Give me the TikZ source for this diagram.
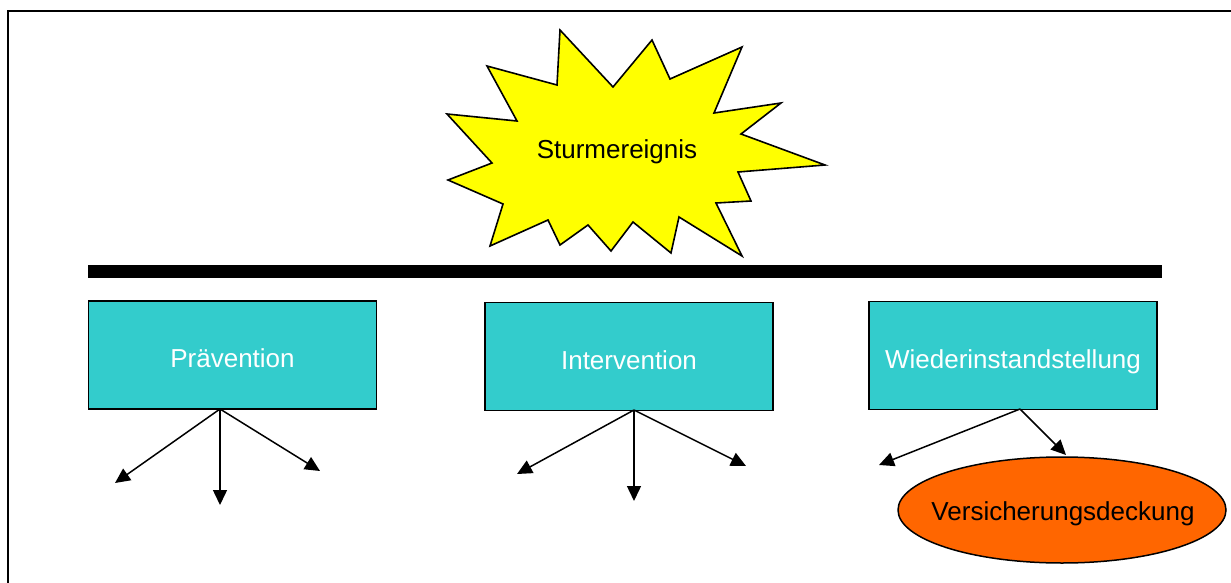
\documentclass[tikz,border=0pt]{standalone}
\usepackage{fontspec}
\setmainfont{Liberation Sans}
\usetikzlibrary{arrows.meta,shapes.geometric}
\definecolor{boxteal}{HTML}{33CCCC}
\definecolor{stormyellow}{HTML}{FFFF00}
\definecolor{coverorange}{HTML}{FF6600}
\tikzset{
  bigfont/.style={font=\fontsize{26}{30}\selectfont},
  phasebox/.style={draw=black, line width=1.8pt, fill=boxteal, text=white,
    minimum width=288pt, minimum height=108pt, inner sep=0pt,
    text height=25pt, text depth=0pt, bigfont},
  branch/.style={line width=1.5pt, -{Triangle[length=15pt,width=14pt]}},
  darktext/.style={bigfont, text=black, inner sep=0pt}
}
\begin{document}
\begin{tikzpicture}[x=1pt,y=-1pt]
\useasboundingbox (0,0) rectangle (1231,583);
% outer frame
\draw[line width=2pt] (8,583) -- (8,11) -- (1231,11);
% storm burst
\draw[line width=1.6pt, fill=stormyellow, line join=miter]
  (560,30) -- (613,87) -- (652,40) -- (670,79) -- (742,47) -- (714,113)
  -- (781,103) -- (741,134) -- (825,165) -- (738,172) -- (751,201)
  -- (716,203) -- (742,256) -- (679,217) -- (671,253) -- (633,222)
  -- (611,251) -- (588,225) -- (560,245) -- (548,220) -- (490,246)
  -- (503,204) -- (448,180) -- (492,163) -- (447,114) -- (517,121)
  -- (487,66) -- (557,85) -- cycle;
\node[darktext, anchor=base] (storm) at (617,158) {Sturmereignis};
% dividing bar
\node[fill=black, minimum width=1074pt, minimum height=12.5pt, inner sep=0pt] (bar) at (625,271.5) {};
% phases
\node[phasebox] (prev) at (232.5,355) {Prävention};
\node[phasebox] (inter) at (629,356.5) {Intervention};
\node[phasebox] (wied) at (1013,355.5) {Wiederinstandstellung};
% insurance
\node[ellipse, draw=black, line width=1.5pt, fill=coverorange, minimum width=328pt,
  minimum height=106pt, inner sep=0pt] (vers) at (1062,510) {};
\node[darktext, anchor=base] (verstext) at (1063,520) {Versicherungsdeckung};
% branch points
\coordinate (p0) at (220,409);
\coordinate (i0) at (634,410);
\coordinate (w0) at (1020,409);
\coordinate (p1) at (115,483);
\coordinate (p2) at (220,505);
\coordinate (p3) at (320,471);
\coordinate (i1) at (517,474);
\coordinate (i2) at (634,501);
\coordinate (i3) at (746,466);
\coordinate (w1) at (879,465);
\coordinate (w2) at (1066,455);
% branches
\draw[branch] (p0) -- (p1);
\draw[branch] (p0) -- (p2);
\draw[branch] (p0) -- (p3);
\draw[branch] (i0) -- (i1);
\draw[branch] (i0) -- (i2);
\draw[branch] (i0) -- (i3);
\draw[branch] (w0) -- (w1);
\draw[branch] (w0) -- (w2);
\end{tikzpicture}
\end{document}
